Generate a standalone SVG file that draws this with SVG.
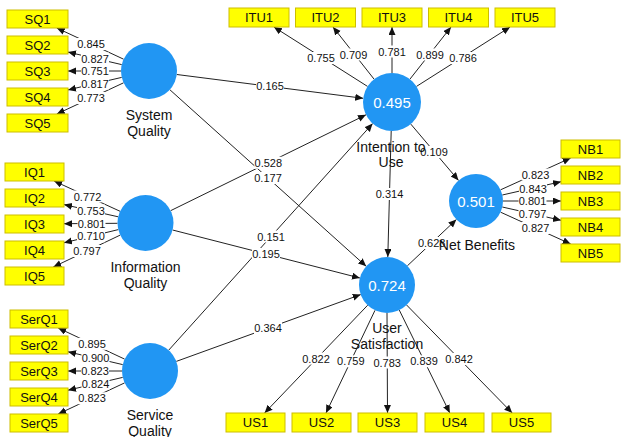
<svg xmlns="http://www.w3.org/2000/svg" width="621" height="437" viewBox="0 0 621 437">
  <style>
    text { font-family: "Liberation Sans", Arial, Helvetica, sans-serif; fill: #111; }
    .box { fill: #FFFF00; stroke: #CDBE00; stroke-width: 1; }
    .bt { font-size: 13px; text-anchor: middle; }
    .lv { fill: #2196F3; }
    .val { font-size: 15px; text-anchor: middle; fill: #FFFFFF; }
    .nl { font-size: 14px; text-anchor: middle; }
    .cn line { stroke: #222; stroke-width: 1; marker-end: url(#ah); }
    .lb rect { fill: #FFFFFF; }
    .lb text { font-size: 11px; text-anchor: middle; }
  </style>
  <defs>
    <marker id="ah" markerUnits="userSpaceOnUse" markerWidth="9" markerHeight="8" refX="8" refY="3.5" orient="auto">
      <path d="M0,0 L8,3.5 L0,7 Z" fill="#111"/>
    </marker>
  </defs>
  <rect width="621" height="437" fill="#FFFFFF"/>

  <!-- connectors -->
  <g id="connectors" class="cn">
    <!-- System Quality indicators -->
    <line x1="123.6" y1="59.2" x2="56.8" y2="28"/>
    <line x1="121.7" y1="64.6" x2="68" y2="52.1"/>
    <line x1="121" y1="71" x2="68" y2="71"/>
    <line x1="121.7" y1="77.4" x2="68" y2="89.9"/>
    <line x1="123.6" y1="82.8" x2="56.8" y2="114"/>
    <!-- Information Quality indicators -->
    <line x1="120.1" y1="211.3" x2="54.1" y2="181"/>
    <line x1="118.2" y1="216.8" x2="64" y2="204.6"/>
    <line x1="117.5" y1="223.3" x2="64" y2="223.7"/>
    <line x1="118.3" y1="229.6" x2="64" y2="242.8"/>
    <line x1="120.2" y1="235.1" x2="53.3" y2="267"/>
    <!-- Service Quality indicators -->
    <line x1="124.6" y1="359.1" x2="58.2" y2="328"/>
    <line x1="122.7" y1="364.6" x2="68" y2="351.8"/>
    <line x1="122" y1="371" x2="68" y2="371"/>
    <line x1="122.7" y1="377.4" x2="68" y2="390.2"/>
    <line x1="124.6" y1="382.9" x2="58.2" y2="414"/>
    <!-- Intention to Use indicators -->
    <line x1="367.5" y1="86.4" x2="273.9" y2="27"/>
    <line x1="374.1" y1="79.2" x2="333" y2="27"/>
    <line x1="392" y1="73" x2="392" y2="27"/>
    <line x1="409.9" y1="79.2" x2="451" y2="27"/>
    <line x1="416.5" y1="86.4" x2="510.1" y2="27"/>
    <!-- Net Benefits indicators -->
    <line x1="500.6" y1="189.8" x2="570.7" y2="158"/>
    <line x1="502.3" y1="195" x2="561" y2="181.7"/>
    <line x1="503" y1="201" x2="561" y2="201"/>
    <line x1="502.3" y1="207" x2="561" y2="220.3"/>
    <line x1="500.6" y1="212.2" x2="570.7" y2="244"/>
    <!-- User Satisfaction indicators -->
    <line x1="367.7" y1="305.2" x2="264.6" y2="413"/>
    <line x1="375" y1="310.3" x2="326" y2="413"/>
    <line x1="387" y1="313" x2="387.5" y2="413"/>
    <line x1="399.3" y1="310.1" x2="449.8" y2="413"/>
    <line x1="406.6" y1="305" x2="512.2" y2="413"/>
    <!-- structural paths -->
    <line x1="176.8" y1="74.5" x2="363.2" y2="98.3"/>
    <line x1="169.8" y1="89.7" x2="366.2" y2="266.3"/>
    <line x1="170.6" y1="210.7" x2="366" y2="114.8"/>
    <line x1="172.6" y1="230" x2="359.9" y2="278"/>
    <line x1="168.7" y1="350.2" x2="372.6" y2="123.6"/>
    <line x1="176.3" y1="361.4" x2="360.7" y2="294.6"/>
    <line x1="391.2" y1="131" x2="387.8" y2="257"/>
    <line x1="410.8" y1="124.1" x2="458.5" y2="180.4"/>
    <line x1="407.4" y1="265.8" x2="456.4" y2="219.5"/>
  </g>

  <!-- path coefficients and loadings -->
  <g id="weights" class="lb">
    <rect x="77" y="38" width="28" height="12"/><text x="91" y="48">0.845</text>
    <rect x="81" y="52.5" width="28" height="12"/><text x="95" y="62.5">0.827</text>
    <rect x="81" y="65" width="28" height="12"/><text x="95" y="75">0.751</text>
    <rect x="81" y="77.5" width="28" height="12"/><text x="95" y="87.5">0.817</text>
    <rect x="77" y="92" width="28" height="12"/><text x="91" y="102">0.773</text>

    <rect x="73.5" y="190.5" width="28" height="12"/><text x="87.5" y="200.5">0.772</text>
    <rect x="77" y="204.5" width="28" height="12"/><text x="91" y="214.5">0.753</text>
    <rect x="77.5" y="217.5" width="28" height="12"/><text x="91.5" y="227.5">0.801</text>
    <rect x="77" y="230.3" width="28" height="12"/><text x="91" y="240.3">0.710</text>
    <rect x="73" y="245" width="28" height="12"/><text x="87" y="255">0.797</text>

    <rect x="78" y="337.8" width="28" height="12"/><text x="92" y="347.8">0.895</text>
    <rect x="81.5" y="352.2" width="28" height="12"/><text x="95.5" y="362.2">0.900</text>
    <rect x="81" y="365" width="28" height="12"/><text x="95" y="375">0.823</text>
    <rect x="81.5" y="377.8" width="28" height="12"/><text x="95.5" y="387.8">0.824</text>
    <rect x="78" y="392.3" width="28" height="12"/><text x="92" y="402.3">0.823</text>

    <rect x="307" y="52" width="28" height="12"/><text x="321" y="62">0.755</text>
    <rect x="339.5" y="48.5" width="28" height="12"/><text x="353.5" y="58.5">0.709</text>
    <rect x="378" y="45.5" width="28" height="12"/><text x="392" y="55.5">0.781</text>
    <rect x="416" y="48.5" width="28" height="12"/><text x="430" y="58.5">0.899</text>
    <rect x="449" y="52" width="28" height="12"/><text x="463" y="62">0.786</text>

    <rect x="521.5" y="168.5" width="28" height="12"/><text x="535.5" y="178.5">0.823</text>
    <rect x="519" y="182.5" width="28" height="12"/><text x="533" y="192.5">0.843</text>
    <rect x="518.5" y="195" width="28" height="12"/><text x="532.5" y="205">0.801</text>
    <rect x="518.5" y="207.8" width="28" height="12"/><text x="532.5" y="217.8">0.797</text>
    <rect x="521.5" y="222" width="28" height="12"/><text x="535.5" y="232">0.827</text>

    <rect x="302" y="352.5" width="28" height="12"/><text x="316" y="362.5">0.822</text>
    <rect x="336.8" y="355.3" width="28" height="12"/><text x="350.8" y="365.3">0.759</text>
    <rect x="373.2" y="356.5" width="28" height="12"/><text x="387.2" y="366.5">0.783</text>
    <rect x="410" y="355.3" width="28" height="12"/><text x="424" y="365.3">0.839</text>
    <rect x="445" y="353" width="28" height="12"/><text x="459" y="363">0.842</text>

    <rect x="256" y="80.4" width="28" height="12"/><text x="270" y="90.4">0.165</text>
    <rect x="254.3" y="156.8" width="28" height="12"/><text x="268.3" y="166.8">0.528</text>
    <rect x="254" y="172" width="28" height="12"/><text x="268" y="182">0.177</text>
    <rect x="257" y="230.5" width="28" height="12"/><text x="271" y="240.5">0.151</text>
    <rect x="252" y="248" width="28" height="12"/><text x="266" y="258">0.195</text>
    <rect x="254" y="322" width="28" height="12"/><text x="268" y="332">0.364</text>
    <rect x="375.5" y="188" width="28" height="12"/><text x="389.5" y="198">0.314</text>
    <rect x="420" y="146" width="28" height="12"/><text x="434" y="156">0.109</text>
    <rect x="417.7" y="237" width="28" height="12"/><text x="431.7" y="247">0.628</text>
  </g>

  <!-- latent variables -->
  <g id="system-quality">
    <circle class="lv" cx="149" cy="71" r="28"/>
    <text class="nl" x="149" y="120">System</text>
    <text class="nl" x="149" y="136">Quality</text>
  </g>
  <g id="information-quality">
    <circle class="lv" cx="145.5" cy="223" r="28"/>
    <text class="nl" x="145.5" y="272">Information</text>
    <text class="nl" x="145.5" y="288">Quality</text>
  </g>
  <g id="service-quality">
    <circle class="lv" cx="150" cy="371" r="28"/>
    <text class="nl" x="150" y="420">Service</text>
    <text class="nl" x="150" y="436">Quality</text>
  </g>
  <g id="intention-to-use">
    <circle class="lv" cx="392" cy="102" r="29"/>
    <text class="val" x="392" y="107.5">0.495</text>
    <text class="nl" x="391" y="152">Intention to</text>
    <text class="nl" x="391" y="167">Use</text>
  </g>
  <g id="user-satisfaction">
    <circle class="lv" cx="387" cy="285" r="28"/>
    <text class="val" x="387" y="290.5">0.724</text>
    <text class="nl" x="387" y="333">User</text>
    <text class="nl" x="387" y="349">Satisfaction</text>
  </g>
  <g id="net-benefits">
    <circle class="lv" cx="476" cy="201" r="27"/>
    <text class="val" x="476" y="206.5">0.501</text>
    <text class="nl" x="477" y="250">Net Benefits</text>
  </g>

  <!-- indicators -->
  <g id="SQ1"><rect class="box" x="7" y="10" width="61" height="18"/><text class="bt" x="37.5" y="23.5">SQ1</text></g>
  <g id="SQ2"><rect class="box" x="7" y="36" width="61" height="18"/><text class="bt" x="37.5" y="49.5">SQ2</text></g>
  <g id="SQ3"><rect class="box" x="7" y="62" width="61" height="18"/><text class="bt" x="37.5" y="75.5">SQ3</text></g>
  <g id="SQ4"><rect class="box" x="7" y="88" width="61" height="18"/><text class="bt" x="37.5" y="101.5">SQ4</text></g>
  <g id="SQ5"><rect class="box" x="7" y="114" width="61" height="18"/><text class="bt" x="37.5" y="127.5">SQ5</text></g>

  <g id="IQ1"><rect class="box" x="5" y="163" width="59" height="18"/><text class="bt" x="34.5" y="176.5">IQ1</text></g>
  <g id="IQ2"><rect class="box" x="5" y="189" width="59" height="18"/><text class="bt" x="34.5" y="202.5">IQ2</text></g>
  <g id="IQ3"><rect class="box" x="5" y="215" width="59" height="18"/><text class="bt" x="34.5" y="228.5">IQ3</text></g>
  <g id="IQ4"><rect class="box" x="5" y="241" width="59" height="18"/><text class="bt" x="34.5" y="254.5">IQ4</text></g>
  <g id="IQ5"><rect class="box" x="5" y="267" width="59" height="18"/><text class="bt" x="34.5" y="280.5">IQ5</text></g>

  <g id="SerQ1"><rect class="box" x="10" y="310" width="58" height="18"/><text class="bt" x="39" y="323.5">SerQ1</text></g>
  <g id="SerQ2"><rect class="box" x="10" y="336" width="58" height="18"/><text class="bt" x="39" y="349.5">SerQ2</text></g>
  <g id="SerQ3"><rect class="box" x="10" y="362" width="58" height="18"/><text class="bt" x="39" y="375.5">SerQ3</text></g>
  <g id="SerQ4"><rect class="box" x="10" y="388" width="58" height="18"/><text class="bt" x="39" y="401.5">SerQ4</text></g>
  <g id="SerQ5"><rect class="box" x="10" y="414" width="58" height="18"/><text class="bt" x="39" y="427.5">SerQ5</text></g>

  <g id="ITU1"><rect class="box" x="229" y="8" width="60" height="19"/><text class="bt" x="259" y="22">ITU1</text></g>
  <g id="ITU2"><rect class="box" x="295.5" y="8" width="60" height="19"/><text class="bt" x="325.5" y="22">ITU2</text></g>
  <g id="ITU3"><rect class="box" x="362" y="8" width="60" height="19"/><text class="bt" x="392" y="22">ITU3</text></g>
  <g id="ITU4"><rect class="box" x="428.5" y="8" width="60" height="19"/><text class="bt" x="458.5" y="22">ITU4</text></g>
  <g id="ITU5"><rect class="box" x="495" y="8" width="60" height="19"/><text class="bt" x="525" y="22">ITU5</text></g>

  <g id="NB1"><rect class="box" x="561" y="140" width="59" height="18"/><text class="bt" x="590.5" y="153.5">NB1</text></g>
  <g id="NB2"><rect class="box" x="561" y="166" width="59" height="18"/><text class="bt" x="590.5" y="179.5">NB2</text></g>
  <g id="NB3"><rect class="box" x="561" y="192" width="59" height="18"/><text class="bt" x="590.5" y="205.5">NB3</text></g>
  <g id="NB4"><rect class="box" x="561" y="218" width="59" height="18"/><text class="bt" x="590.5" y="231.5">NB4</text></g>
  <g id="NB5"><rect class="box" x="561" y="244" width="59" height="18"/><text class="bt" x="590.5" y="257.5">NB5</text></g>

  <g id="US1"><rect class="box" x="226" y="413" width="59" height="19"/><text class="bt" x="255.5" y="427">US1</text></g>
  <g id="US2"><rect class="box" x="292" y="413" width="59" height="19"/><text class="bt" x="321.5" y="427">US2</text></g>
  <g id="US3"><rect class="box" x="358" y="413" width="59" height="19"/><text class="bt" x="387.5" y="427">US3</text></g>
  <g id="US4"><rect class="box" x="425" y="413" width="59" height="19"/><text class="bt" x="454.5" y="427">US4</text></g>
  <g id="US5"><rect class="box" x="492" y="413" width="59" height="19"/><text class="bt" x="521.5" y="427">US5</text></g>
</svg>
